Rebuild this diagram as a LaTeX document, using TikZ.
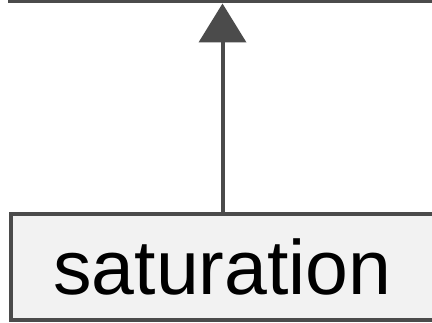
\documentclass[tikz,border=0pt]{standalone}
\usepackage{fontspec}
\setmainfont{Liberation Sans}
\usetikzlibrary{arrows.meta,positioning}
\definecolor{edgegray}{HTML}{4B4B4B}
\definecolor{boxgray}{HTML}{F2F2F2}

\begin{document}
\begin{tikzpicture}[
    box/.style={draw=edgegray, fill=boxgray, line width=4pt, inner sep=0pt, outer sep=0pt},
    link/.style={draw=edgegray, line width=4pt, -{Triangle[length=39pt, width=47pt]}, shorten >=2pt}]
    \useasboundingbox (0pt,0pt) rectangle (432pt,323pt);
    \clip (0pt,0pt) rectangle (432pt,323pt);
    \node[box, minimum width=423pt, minimum height=105.8pt, font=\fontsize{77}{80}\selectfont] (sat) at (222.5pt,55.6pt) {saturation};
    \node[box, minimum width=426pt, minimum height=80pt, above=213pt of sat] (parent) {};
    \draw[link] (sat) -- (parent);
\end{tikzpicture}
\end{document}
